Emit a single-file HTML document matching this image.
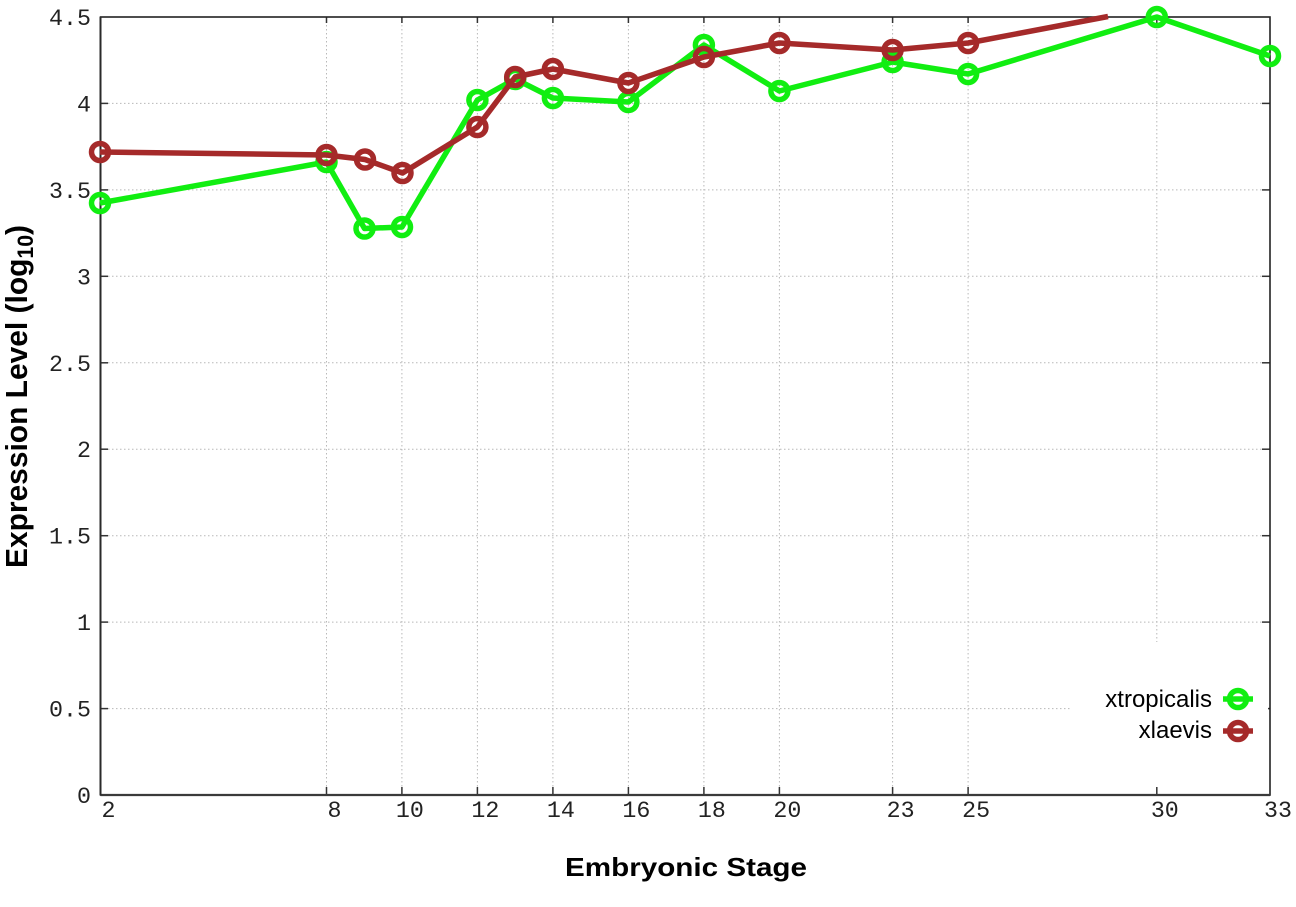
<!DOCTYPE html>
<html>
<head>
<meta charset="utf-8">
<style>
  html,body{margin:0;padding:0;background:#fff;}
  svg{display:block;}
</style>
</head>
<body>
<svg width="1296" height="907" viewBox="0 0 1296 907" xmlns="http://www.w3.org/2000/svg">
  <rect x="0" y="0" width="1296" height="907" fill="#fff"/>
  <!-- grid -->
  <g stroke="#b8b8b8" stroke-width="1" stroke-dasharray="1.5,2.5" fill="none">
    <line x1="100" y1="708.6" x2="1070" y2="708.6"/>
    <line x1="100" y1="622.1" x2="1270" y2="622.1"/>
    <line x1="100" y1="535.7" x2="1270" y2="535.7"/>
    <line x1="100" y1="449.2" x2="1270" y2="449.2"/>
    <line x1="100" y1="362.8" x2="1270" y2="362.8"/>
    <line x1="100" y1="276.3" x2="1270" y2="276.3"/>
    <line x1="100" y1="189.9" x2="1270" y2="189.9"/>
    <line x1="100" y1="103.4" x2="1270" y2="103.4"/>
    <line x1="326.5" y1="17" x2="326.5" y2="795"/>
    <line x1="401.9" y1="17" x2="401.9" y2="795"/>
    <line x1="477.4" y1="17" x2="477.4" y2="795"/>
    <line x1="552.9" y1="17" x2="552.9" y2="795"/>
    <line x1="628.4" y1="17" x2="628.4" y2="795"/>
    <line x1="703.9" y1="17" x2="703.9" y2="795"/>
    <line x1="779.4" y1="17" x2="779.4" y2="795"/>
    <line x1="892.6" y1="17" x2="892.6" y2="795"/>
    <line x1="968.1" y1="17" x2="968.1" y2="795"/>
    <line x1="1156.8" y1="17" x2="1156.8" y2="642"/>
  </g>
  <!-- ticks -->
  <g stroke="#333" stroke-width="1.5">
    <line x1="100" y1="708.6" x2="108" y2="708.6"/><line x1="1270" y1="708.6" x2="1262" y2="708.6"/>
    <line x1="100" y1="622.1" x2="108" y2="622.1"/><line x1="1270" y1="622.1" x2="1262" y2="622.1"/>
    <line x1="100" y1="535.7" x2="108" y2="535.7"/><line x1="1270" y1="535.7" x2="1262" y2="535.7"/>
    <line x1="100" y1="449.2" x2="108" y2="449.2"/><line x1="1270" y1="449.2" x2="1262" y2="449.2"/>
    <line x1="100" y1="362.8" x2="108" y2="362.8"/><line x1="1270" y1="362.8" x2="1262" y2="362.8"/>
    <line x1="100" y1="276.3" x2="108" y2="276.3"/><line x1="1270" y1="276.3" x2="1262" y2="276.3"/>
    <line x1="100" y1="189.9" x2="108" y2="189.9"/><line x1="1270" y1="189.9" x2="1262" y2="189.9"/>
    <line x1="100" y1="103.4" x2="108" y2="103.4"/><line x1="1270" y1="103.4" x2="1262" y2="103.4"/>
    <line x1="326.5" y1="795" x2="326.5" y2="787"/><line x1="326.5" y1="17" x2="326.5" y2="23"/>
    <line x1="401.9" y1="795" x2="401.9" y2="787"/><line x1="401.9" y1="17" x2="401.9" y2="23"/>
    <line x1="477.4" y1="795" x2="477.4" y2="787"/><line x1="477.4" y1="17" x2="477.4" y2="23"/>
    <line x1="552.9" y1="795" x2="552.9" y2="787"/><line x1="552.9" y1="17" x2="552.9" y2="23"/>
    <line x1="628.4" y1="795" x2="628.4" y2="787"/><line x1="628.4" y1="17" x2="628.4" y2="23"/>
    <line x1="703.9" y1="795" x2="703.9" y2="787"/><line x1="703.9" y1="17" x2="703.9" y2="23"/>
    <line x1="779.4" y1="795" x2="779.4" y2="787"/><line x1="779.4" y1="17" x2="779.4" y2="23"/>
    <line x1="892.6" y1="795" x2="892.6" y2="787"/><line x1="892.6" y1="17" x2="892.6" y2="23"/>
    <line x1="968.1" y1="795" x2="968.1" y2="787"/><line x1="968.1" y1="17" x2="968.1" y2="23"/>
    <line x1="1156.8" y1="795" x2="1156.8" y2="787"/><line x1="1156.8" y1="17" x2="1156.8" y2="23"/>
  </g>
  <!-- border -->
  <rect x="100.5" y="17" width="1169.5" height="778" fill="none" stroke="#222" stroke-width="1.6"/>
  <line x1="100.5" y1="795" x2="1270" y2="795" stroke="#3a3a3a" stroke-width="2.2"/>
  <line x1="100.5" y1="17" x2="100.5" y2="795" stroke="#2a2a2a" stroke-width="2"/>

  <!-- y tick labels -->
  <g font-family="Liberation Mono, monospace" font-size="23.3" fill="#222" text-anchor="end">
    <text x="91" y="803">0</text>
    <text x="91" y="716.6">0.5</text>
    <text x="91" y="630.1">1</text>
    <text x="91" y="543.7">1.5</text>
    <text x="91" y="457.2">2</text>
    <text x="91" y="370.8">2.5</text>
    <text x="91" y="284.3">3</text>
    <text x="91" y="197.9">3.5</text>
    <text x="91" y="111.4">4</text>
    <text x="91" y="25">4.5</text>
  </g>
  <!-- x tick labels -->
  <g font-family="Liberation Mono, monospace" font-size="23.3" fill="#222" text-anchor="middle">
    <text x="108.5" y="817">2</text>
    <text x="334.5" y="817">8</text>
    <text x="409.9" y="817">10</text>
    <text x="485.4" y="817">12</text>
    <text x="560.9" y="817">14</text>
    <text x="636.4" y="817">16</text>
    <text x="711.9" y="817">18</text>
    <text x="787.4" y="817">20</text>
    <text x="900.6" y="817">23</text>
    <text x="976.1" y="817">25</text>
    <text x="1164.8" y="817">30</text>
    <text x="1278" y="817">33</text>
  </g>

  <!-- axis labels -->
  <text x="565" y="876" font-family="Liberation Sans, Arial, sans-serif" font-weight="bold" font-size="26" textLength="242" lengthAdjust="spacingAndGlyphs" fill="#000">Embryonic Stage</text>
  <text transform="translate(27,568) rotate(-90)" font-family="Liberation Sans, Arial, sans-serif" font-weight="bold" font-size="31" fill="#000" textLength="343" lengthAdjust="spacingAndGlyphs">Expression Level (log<tspan font-size="22" dy="6">10</tspan><tspan dy="-6">)</tspan></text>

  <!-- legend box -->
  <rect x="1070" y="642" width="198" height="120" fill="#fff"/>

  <!-- green series -->
  <g stroke="#11ee11" stroke-width="5.5" fill="none" stroke-linejoin="round">
    <polyline points="100,203 326.5,162 364.5,228.5 402,227 477.4,100 515.2,79 552.9,98 628.4,102 703.9,45 779.4,91 892.6,62 968.1,74 1156.8,17 1270,56"/>
    <circle cx="100" cy="203" r="8.5"/>
    <circle cx="326.5" cy="162" r="8.5"/>
    <circle cx="364.5" cy="228.5" r="8.5"/>
    <circle cx="402" cy="227" r="8.5"/>
    <circle cx="477.4" cy="100" r="8.5"/>
    <circle cx="515.2" cy="79" r="8.5"/>
    <circle cx="552.9" cy="98" r="8.5"/>
    <circle cx="628.4" cy="102" r="8.5"/>
    <circle cx="703.9" cy="45" r="8.5"/>
    <circle cx="779.4" cy="91" r="8.5"/>
    <circle cx="892.6" cy="62" r="8.5"/>
    <circle cx="968.1" cy="74" r="8.5"/>
    <circle cx="1156.8" cy="17" r="8.5"/>
    <circle cx="1270" cy="56" r="8.5"/>
  </g>
  <!-- red series -->
  <g stroke="#a52a2a" stroke-width="5.5" fill="none" stroke-linejoin="round">
    <polyline points="100,152 326.5,155 365,159.5 402.5,173 477.4,127 515.2,77 552.9,69 628.4,83 703.9,57 779.4,43 892.6,50 968.1,43 1108,16.5"/>
    <circle cx="100" cy="152" r="8.5"/>
    <circle cx="326.5" cy="155" r="8.5"/>
    <circle cx="365" cy="159.5" r="8.5"/>
    <circle cx="402.5" cy="173" r="8.5"/>
    <circle cx="477.4" cy="127" r="8.5"/>
    <circle cx="515.2" cy="77" r="8.5"/>
    <circle cx="552.9" cy="69" r="8.5"/>
    <circle cx="628.4" cy="83" r="8.5"/>
    <circle cx="703.9" cy="57" r="8.5"/>
    <circle cx="779.4" cy="43" r="8.5"/>
    <circle cx="892.6" cy="50" r="8.5"/>
    <circle cx="968.1" cy="43" r="8.5"/>
  </g>

  <!-- legend -->
  <g font-family="Liberation Sans, Arial, sans-serif" font-size="24" fill="#000" text-anchor="end">
    <text x="1212" y="707">xtropicalis</text>
    <text x="1212" y="738">xlaevis</text>
  </g>
  <g stroke-width="5.5" fill="none">
    <line x1="1223" y1="699" x2="1253" y2="699" stroke="#11ee11"/>
    <circle cx="1238" cy="699" r="8.5" stroke="#11ee11"/>
    <line x1="1223" y1="731" x2="1253" y2="731" stroke="#a52a2a"/>
    <circle cx="1238" cy="731" r="8.5" stroke="#a52a2a"/>
  </g>
</svg>
</body>
</html>
